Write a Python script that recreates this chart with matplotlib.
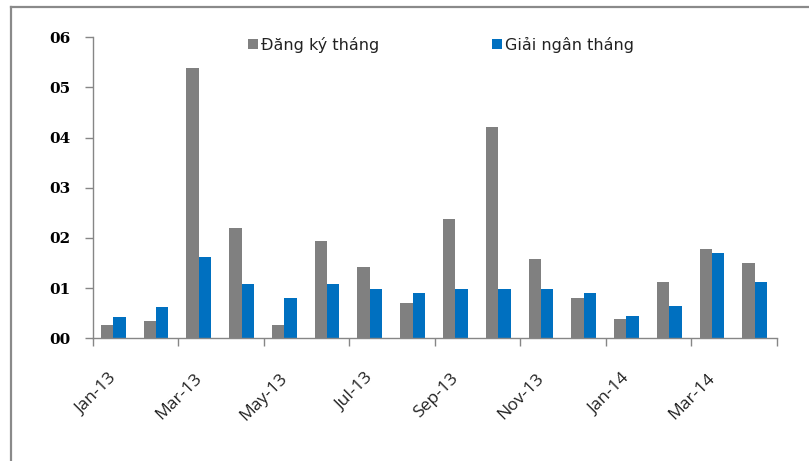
import numpy as np
import matplotlib
matplotlib.use('Agg')
import matplotlib.pyplot as plt
from matplotlib.lines import Line2D

months = ['Jan-13', 'Feb-13', 'Mar-13', 'Apr-13', 'May-13', 'Jun-13', 'Jul-13', 'Aug-13',
          'Sep-13', 'Oct-13', 'Nov-13', 'Dec-13', 'Jan-14', 'Feb-14', 'Mar-14', 'Apr-14']
dang_ky = [0.26, 0.34, 5.39, 2.20, 0.26, 1.94, 1.43, 0.70,
           2.38, 4.21, 1.58, 0.80, 0.39, 1.13, 1.79, 1.51]
giai_ngan = [0.42, 0.62, 1.63, 1.08, 0.80, 1.08, 0.98, 0.90,
             0.98, 0.98, 0.98, 0.90, 0.44, 0.64, 1.71, 1.13]
y_ticks = [0, 1, 2, 3, 4, 5, 6]
y_labels = ['00', '01', '02', '03', '04', '05', '06']

W, H = 809, 461
fig = plt.figure(figsize=(W / 100, H / 100), dpi=100)
ax = fig.add_axes([92.7 / W, (H - 338.3) / H, 684.3 / W, 301 / H])

x = np.arange(len(months))
bw = 0.29
ax.bar(x - bw / 2 - 0.02, dang_ky, bw, color='#808080', label='Đăng ký tháng', zorder=2)
ax.bar(x + bw / 2 - 0.02, giai_ngan, bw, color='#0070C0', label='Giải ngân tháng', zorder=2)

ax.set_xlim(-0.5, len(months) - 0.5)
ax.set_ylim(0, 6)

# major ticks on category boundaries, labels on every other month
ax.set_xticks(np.arange(-0.5, len(months), 2))
ax.set_xticklabels([])
ax.set_xticks(x[::2], minor=True)
ax.set_xticklabels(months[::2], minor=True, rotation=45, ha='right', va='center',
                   rotation_mode='anchor', fontsize=12.5, family='Open Sans', color='#222222')
ax.tick_params(axis='x', which='major', length=6, width=1, color='#868686')
ax.tick_params(axis='x', which='minor', length=0, pad=27)

ax.set_yticks(y_ticks)
ax.set_yticklabels(y_labels, fontsize=11, fontweight='bold', family='DejaVu Serif')
ax.tick_params(axis='y', length=5.5, width=1, color='#868686', pad=10.5)

for s in ['top', 'right']:
    ax.spines[s].set_visible(False)
for s in ['left', 'bottom']:
    ax.spines[s].set_color('#868686')
    ax.spines[s].set_linewidth(1)

leg = ax.legend(ncol=2, loc='upper left', bbox_to_anchor=(248 / W, (H - 37) / H),
                bbox_transform=fig.transFigure, frameon=False, fontsize=11.5,
                handlelength=0.6, handleheight=0.6, handletextpad=0.2,
                columnspacing=7.1, borderpad=0, borderaxespad=0)
for t in leg.get_texts():
    t.set_family('DejaVu Sans')
    t.set_color('#222222')

# outer frame lines (top and left)
fig.add_artist(Line2D([11 / W, 1], [(H - 7) / H] * 2, transform=fig.transFigure,
                      color='#8a8a8a', lw=1.6))
fig.add_artist(Line2D([11 / W] * 2, [0, (H - 7) / H], transform=fig.transFigure,
                      color='#8a8a8a', lw=1.6))

fig.savefig('out.png', dpi=100)
